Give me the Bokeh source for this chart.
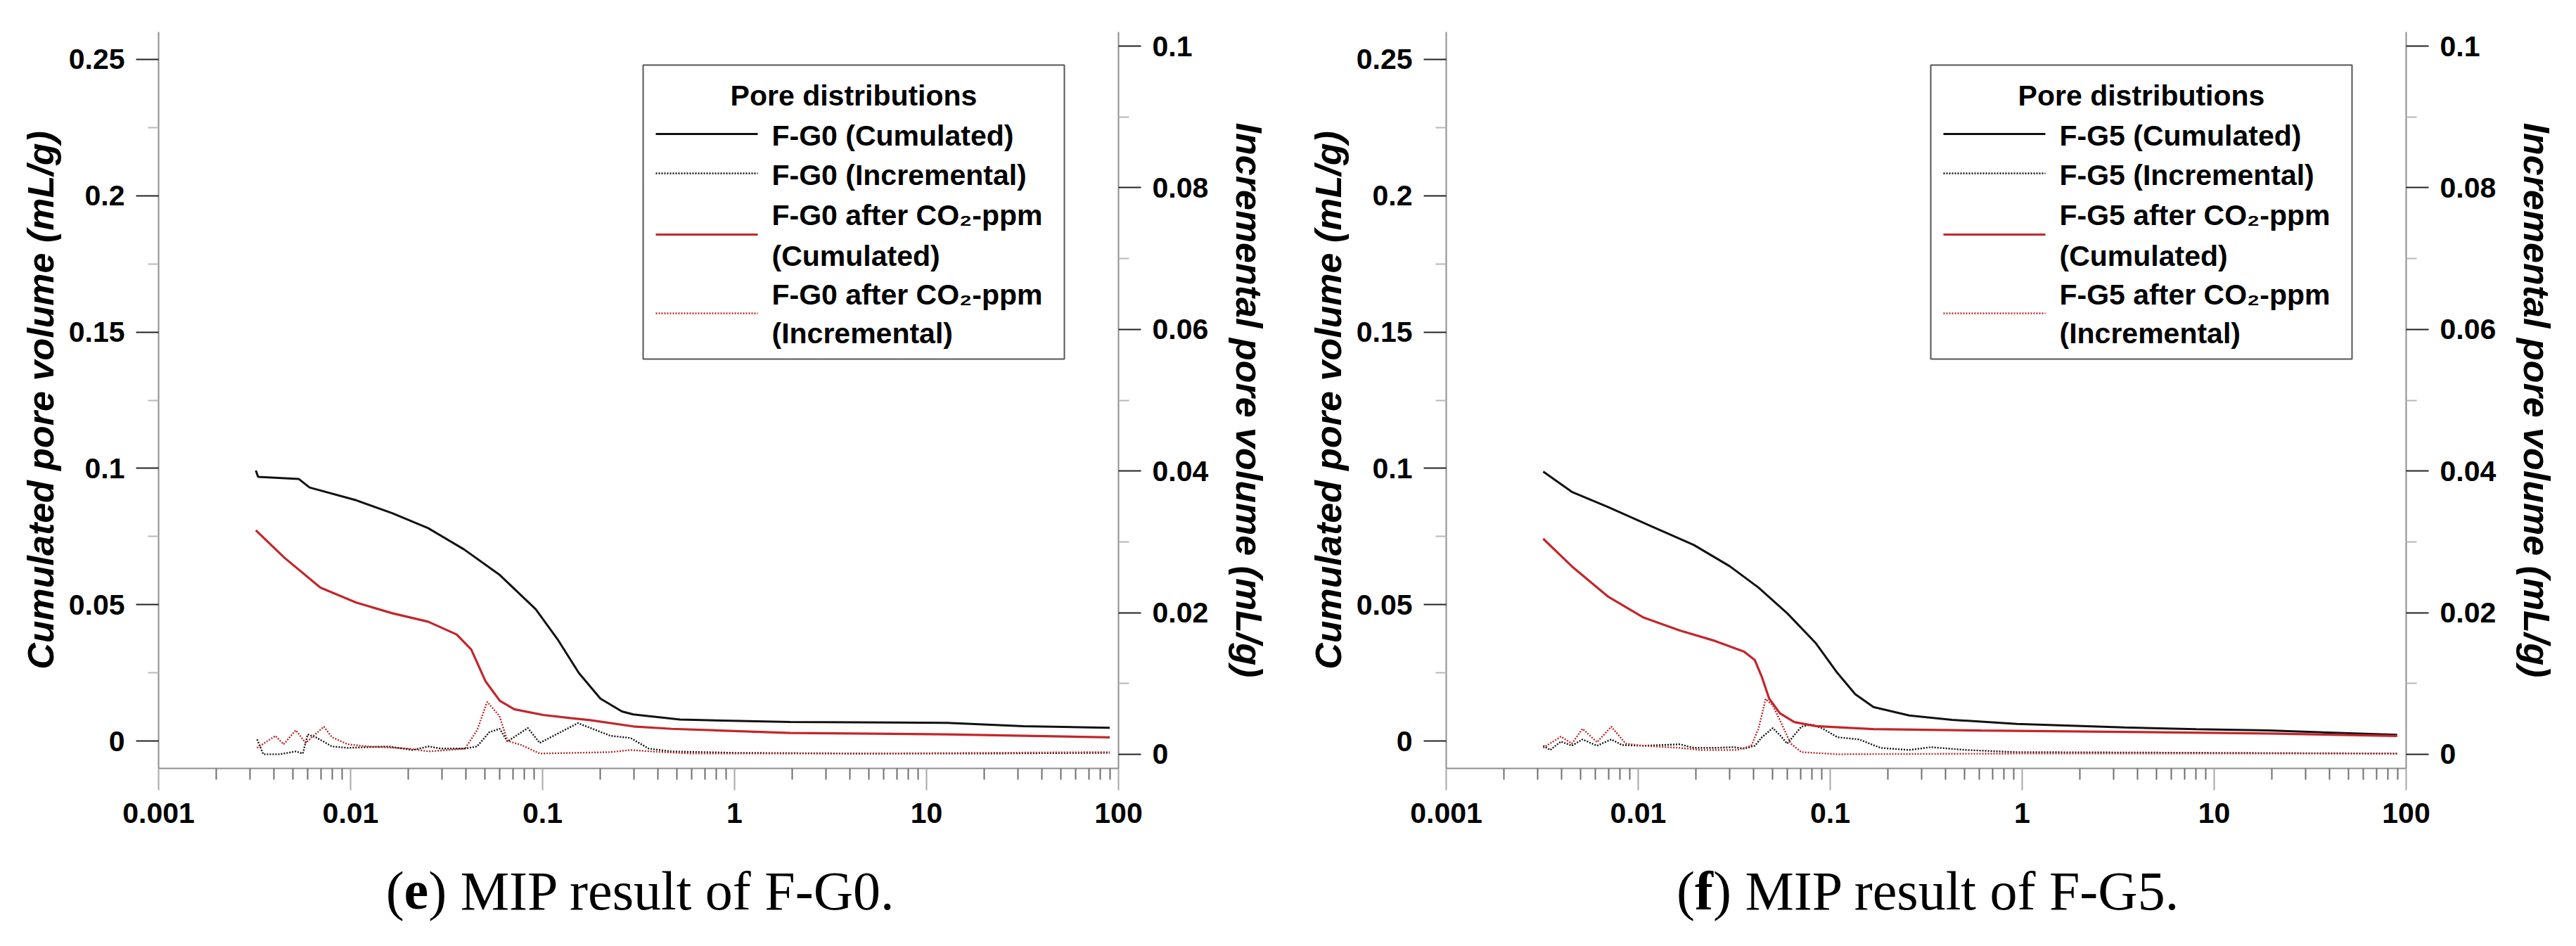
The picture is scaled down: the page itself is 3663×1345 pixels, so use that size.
from bokeh.plotting import figure
from bokeh.models import (Range1d, LinearAxis, FixedTicker, CustomJSTickFormatter,
                          Label, BoxAnnotation, Arrow)
from bokeh.layouts import row, column
from bokeh.core.properties import value
from bokeh.embed import file_html
from bokeh.resources import INLINE

# ---------------- data: pore size (um) vs pore volume (mL/g) ----------------
# F-G0
g0_cum_x = [0.00321, 0.00330, 0.00538, 0.00612, 0.01071, 0.01648, 0.02535, 0.0390, 0.0599,
            0.0921, 0.1193, 0.1545, 0.2001, 0.259, 0.297, 0.52, 1.95, 12.8, 32.0, 90.0]
g0_cum_y = [0.0992, 0.0969, 0.0961, 0.0930, 0.0883, 0.0836, 0.0781, 0.0703, 0.0609,
            0.0484, 0.0375, 0.0250, 0.0156, 0.0109, 0.0098, 0.0079, 0.0070, 0.0067, 0.0055, 0.0049]
g0_inc_x = [0.00326, 0.00351, 0.00427, 0.00518, 0.00564, 0.00598, 0.00659, 0.00800, 0.00967,
            0.01578, 0.0210, 0.0255, 0.0296, 0.0395, 0.0456, 0.0527, 0.0598, 0.0656, 0.0838,
            0.0967, 0.153, 0.226, 0.287, 0.357, 0.467, 1.0, 5.0, 20.0, 90.0]
g0_inc_y = [0.0021, 0.0000, 0.0000, 0.0004, 0.0001, 0.0028, 0.0024, 0.0011, 0.0009,
            0.0011, 0.0006, 0.0011, 0.0008, 0.0008, 0.0011, 0.0031, 0.0036, 0.0018, 0.0037,
            0.0016, 0.0044, 0.0026, 0.0023, 0.0008, 0.0004, 0.0002, 0.0001, 0.0001, 0.0002]
g0a_cum_x = [0.00321, 0.00453, 0.00697, 0.01071, 0.01648, 0.02535, 0.0357, 0.0425, 0.0505,
             0.0599, 0.0712, 0.1005, 0.1416, 0.177, 0.297, 0.47, 1.95, 12.8, 90.0]
g0a_cum_y = [0.0773, 0.0672, 0.0563, 0.0508, 0.0469, 0.0438, 0.0391, 0.0336, 0.0219,
             0.0148, 0.0117, 0.0096, 0.0084, 0.0077, 0.0054, 0.0045, 0.0030, 0.0025, 0.0014]
g0a_inc_x = [0.00326, 0.00406, 0.00448, 0.00518, 0.00583, 0.00726, 0.00800, 0.00967, 0.01235,
             0.02005, 0.0255, 0.0326, 0.0395, 0.0456, 0.0515, 0.0596, 0.0656, 0.0776, 0.0967,
             0.226, 0.287, 0.366, 0.593, 5.0, 90.0]
g0a_inc_y = [0.0009, 0.0026, 0.0014, 0.0034, 0.0016, 0.0039, 0.0024, 0.0014, 0.0011,
             0.0008, 0.0004, 0.0006, 0.0008, 0.0034, 0.0074, 0.0054, 0.0019, 0.0013, 0.0001,
             0.0003, 0.0006, 0.0004, 0.0001, 0.0001, 0.0003]

# F-G5
g5_cum_x = [0.0032, 0.00451, 0.00693, 0.01162, 0.0195, 0.0300, 0.0423, 0.0597, 0.0842, 0.109,
            0.135, 0.168, 0.258, 0.432, 0.938, 3.41, 8.07, 19.1, 89.8]
g5_cum_y = [0.0988, 0.0914, 0.0859, 0.0789, 0.0719, 0.0641, 0.0563, 0.0469, 0.0359, 0.0250,
            0.0172, 0.0125, 0.0094, 0.0078, 0.0063, 0.0050, 0.0044, 0.0039, 0.0023]
g5_inc_x = [0.0032, 0.00348, 0.00396, 0.00451, 0.00513, 0.0061, 0.00724, 0.00824, 0.01067,
            0.0164, 0.0195, 0.0252, 0.0313, 0.0356, 0.0405, 0.0441, 0.0502, 0.0547, 0.0597,
            0.0708, 0.0807, 0.0918, 0.109, 0.141, 0.183, 0.258, 0.334, 0.513, 0.938, 10.0, 89.8]
g5_inc_y = [0.0012, 0.0006, 0.0018, 0.0012, 0.0021, 0.0012, 0.0021, 0.0013, 0.0012,
            0.0014, 0.0009, 0.0009, 0.0010, 0.0008, 0.0012, 0.0024, 0.0037, 0.0027, 0.0015,
            0.0039, 0.0042, 0.0036, 0.0024, 0.0021, 0.0009, 0.0006, 0.0010, 0.0006, 0.0003, 0.0002, 0.0001]
g5a_cum_x = [0.0032, 0.00451, 0.00693, 0.01067, 0.0164, 0.0252, 0.0356, 0.0405, 0.0441, 0.0481,
             0.0547, 0.0650, 0.0842, 0.168, 0.610, 3.41, 19.1, 89.8]
g5a_cum_y = [0.0742, 0.0641, 0.0531, 0.0453, 0.0406, 0.0367, 0.0328, 0.0297, 0.0234, 0.0156,
             0.0102, 0.0070, 0.0055, 0.0044, 0.0039, 0.0034, 0.0028, 0.0019]
g5a_inc_x = [0.0032, 0.00396, 0.00451, 0.00513, 0.0061, 0.00724, 0.0086, 0.01067, 0.0164,
             0.0212, 0.0327, 0.0388, 0.0423, 0.0461, 0.0502, 0.0547, 0.0623, 0.0708, 0.109, 1.0, 89.8]
g5a_inc_y = [0.0009, 0.0025, 0.0015, 0.0036, 0.0017, 0.0039, 0.0015, 0.0012, 0.0009,
             0.0006, 0.0006, 0.0012, 0.0036, 0.0078, 0.0069, 0.0048, 0.0015, 0.0003, 0.0000, 0.0001, 0.0001]

# axis ticks
x_major = [0.001, 0.01, 0.1, 1, 10, 100]
x_minor = [d * m for d in x_major[:-1] for m in range(2, 10)]
cum_major = [0, 0.05, 0.1, 0.15, 0.2, 0.25]
cum_minor = [0.025, 0.075, 0.125, 0.175, 0.225]
inc_major = [0, 0.02, 0.04, 0.06, 0.08, 0.1]
inc_minor = [0.01, 0.03, 0.05, 0.07, 0.09]

FONT = "Liberation Sans"
SERIF = "Liberation Serif"
BLACK = "#111111"
RED = "#c3262b"
RED_DOT = "#b8282c"
AXIS_GREY = "#8e8e8e"

W = 1831          # width of one sub-figure
H_PLOT = 1200     # chart part
H_CAP = 145       # caption strip


def fmt():
    return CustomJSTickFormatter(code="return String(Math.round(tick * 100000) / 100000);")


def style_axis(ax):
    ax.axis_line_color = AXIS_GREY
    ax.axis_line_width = 2
    ax.major_label_text_font = FONT
    ax.major_label_text_font_size = "41px"
    ax.major_label_text_font_style = "bold"
    ax.major_label_text_color = "black"
    ax.axis_label_text_font = FONT
    ax.axis_label_text_font_size = "52px"
    ax.axis_label_text_font_style = "bold italic"
    ax.axis_label_text_color = "black"
    ax.major_tick_in = 0
    ax.minor_tick_in = 0
    ax.major_tick_line_width = 2
    ax.minor_tick_line_width = 2


def legend_box(p, sample, styles):
    """Framed key in the upper right of the plot area (screen units, frame based)."""
    p.add_layout(BoxAnnotation(left=689, right=1288, bottom=582, top=1000,
                               left_units="screen", right_units="screen",
                               bottom_units="screen", top_units="screen",
                               fill_color="white", fill_alpha=1.0,
                               line_color="#555555", line_width=2, line_alpha=1.0))
    txt = dict(x_units="screen", y_units="screen", text_baseline="middle",
               text_font=FONT, text_font_size="41px", text_font_style="bold",
               text_color="black")
    p.add_layout(Label(x=988.5, y=957, text="Pore distributions", text_align="center", **txt))
    rows = [
        ([f"{sample} (Cumulated)"], [900], 902),
        ([f"{sample} (Incremental)"], [844], 846),
        ([f"{sample} after CO\u2082-ppm", "(Cumulated)"], [787, 729], 759),
        ([f"{sample} after CO\u2082-ppm", "(Incremental)"], [674, 619], 647),
    ]
    for (lines, ys, ly), st in zip(rows, styles):
        p.add_layout(Arrow(x_start=707, y_start=ly, x_end=852, y_end=ly,
                           start_units="screen", end_units="screen", end=None, **st))
        for t, y in zip(lines, ys):
            p.add_layout(Label(x=872, y=y, text=t, text_align="left", **txt))


def panel(sample, cx, cy, ix, iy, acx, acy, aix, aiy):
    p = figure(width=W, height=H_PLOT, x_axis_type="log",
               x_range=Range1d(0.001, 100), y_range=Range1d(-0.01, 0.26),
               output_backend="svg", toolbar_location=None,
               min_border_left=225, min_border_right=241,
               min_border_top=45, min_border_bottom=108)
    p.extra_y_ranges = {"inc": Range1d(-0.002, 0.102)}
    p.xgrid.visible = False
    p.ygrid.visible = False
    p.outline_line_color = None
    p.background_fill_color = "white"
    p.border_fill_color = "white"

    # x axis: pore size, log scale
    xa = p.xaxis[0]
    style_axis(xa)
    xa.ticker = FixedTicker(ticks=x_major, minor_ticks=x_minor)
    xa.formatter = fmt()
    xa.major_tick_out = 31
    xa.minor_tick_out = 16
    xa.major_tick_line_color = "#a8a8a8"
    xa.minor_tick_line_color = "#6e6e6e"
    xa.major_label_standoff = 18

    # left axis: cumulated volume
    ya = p.yaxis[0]
    style_axis(ya)
    ya.ticker = FixedTicker(ticks=cum_major, minor_ticks=cum_minor)
    ya.formatter = fmt()
    ya.major_tick_out = 32
    ya.minor_tick_out = 15
    ya.major_tick_line_color = "#222222"
    ya.minor_tick_line_color = "#b8b8b8"
    ya.major_label_standoff = 16
    ya.axis_label = "Cumulated pore volume (mL/g)"
    ya.axis_label_standoff = 8

    # right axis: incremental volume
    ra = LinearAxis(y_range_name="inc", axis_label="Incremental pore volume (mL/g)")
    style_axis(ra)
    ra.ticker = FixedTicker(ticks=inc_major, minor_ticks=inc_minor)
    ra.formatter = fmt()
    ra.major_tick_out = 32
    ra.minor_tick_out = 15
    ra.major_tick_line_color = "#222222"
    ra.minor_tick_line_color = "#b8b8b8"
    ra.major_label_standoff = 16
    ra.axis_label_standoff = 26
    p.add_layout(ra, "right")

    s_cum = dict(line_color=BLACK, line_width=3.0)
    s_inc = dict(line_color=BLACK, line_width=2.4, line_dash="2 2")
    s_acum = dict(line_color=RED, line_width=3.2)
    s_ainc = dict(line_color=RED_DOT, line_width=2.4, line_dash="2 2")

    p.line(cx, cy, **s_cum)
    p.line(ix, iy, y_range_name="inc", **s_inc)
    p.line(acx, acy, **s_acum)
    p.line(aix, aiy, y_range_name="inc", **s_ainc)

    legend_box(p, sample, [s_cum, s_inc, s_acum, s_ainc])
    return p


def caption(letter, sample):
    """Caption strip under a chart, e.g. '(e) MIP result of F-G0.' with a bold letter."""
    c = figure(width=W, height=H_CAP, x_range=Range1d(0, W), y_range=Range1d(0, H_CAP),
               output_backend="svg", toolbar_location=None,
               min_border_left=0, min_border_right=0, min_border_top=0, min_border_bottom=0)
    c.axis.visible = False
    c.grid.visible = False
    c.outline_line_color = None
    size = 78
    w_open = 0.333 * size
    w_letter = (0.444 if letter == "e" else 0.333) * size
    w_rest = 8.527 * size
    x0 = 911 - (w_open + w_letter + w_rest) / 2
    common = dict(y=[79], text_baseline="middle", text_align="left",
                  text_font=value(SERIF), text_font_size=f"{size}px", text_color="black")
    c.text(x=[x0], text=["("], **common)
    c.text(x=[x0 + w_open], text=[letter], text_font_style="bold", **common)
    c.text(x=[x0 + w_open + w_letter], text=[f") MIP result of {sample}."], **common)
    return c


p1 = panel("F-G0", g0_cum_x, g0_cum_y, g0_inc_x, g0_inc_y,
           g0a_cum_x, g0a_cum_y, g0a_inc_x, g0a_inc_y)
p2 = panel("F-G5", g5_cum_x, g5_cum_y, g5_inc_x, g5_inc_y,
           g5a_cum_x, g5a_cum_y, g5a_inc_x, g5a_inc_y)
c1 = caption("e", "F-G0")
c2 = caption("f", "F-G5")

layout = column(row(p1, p2, spacing=0), row(c1, c2, spacing=0), spacing=0)
open("out.html", "w").write(file_html(layout, INLINE))
